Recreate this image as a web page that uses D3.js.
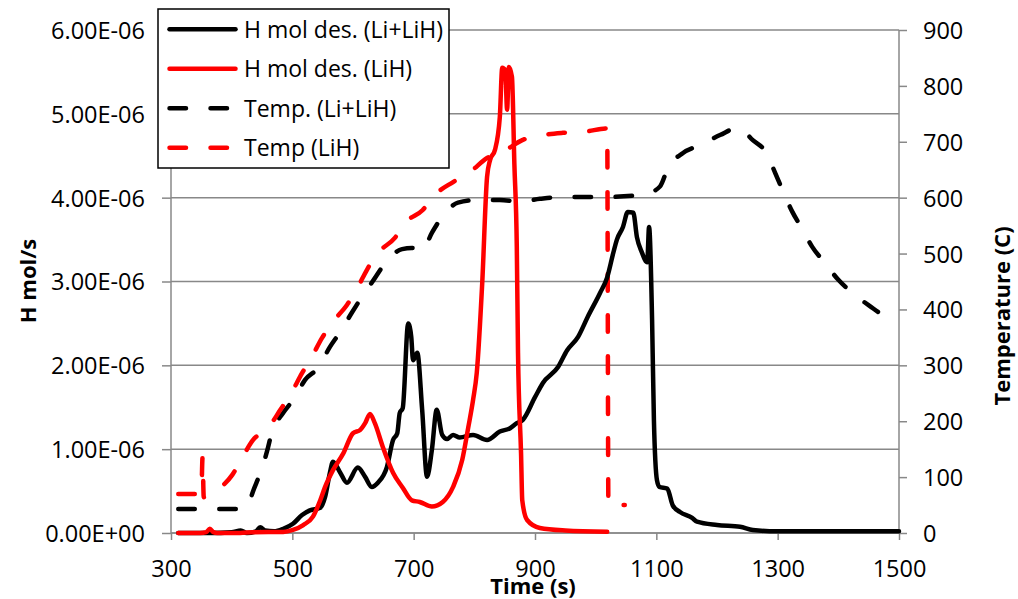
<!DOCTYPE html>
<html>
<head>
<meta charset="utf-8">
<script src="https://cdn.jsdelivr.net/npm/d3@7"></script>
<style>
  html, body { margin: 0; padding: 0; background: #fff; }
  svg { display: block; font-family: "Open Sans", "Noto Sans", sans-serif; }
</style>
</head>
<body>
<svg id="chart" width="1018" height="599"></svg>
<script>
// ---- data (time in s, H rate in 1e-6 mol/s, temperature in C) ----
const timeTicks = [300, 500, 700, 900, 1100, 1300, 1500];
const timeTickLabels = ["300", "500", "700", "900", "1100", "1300", "1500"];
const hTicks = [0, 1, 2, 3, 4, 5, 6];
const hTickLabels = ["0.00E+00", "1.00E-06", "2.00E-06", "3.00E-06", "4.00E-06", "5.00E-06", "6.00E-06"];
const tempTicks = [0, 100, 200, 300, 400, 500, 600, 700, 800, 900];
const tempTickLabels = ["0", "100", "200", "300", "400", "500", "600", "700", "800", "900"];

const seriesNames = ["H mol des. (Li+LiH)", "H mol des. (LiH)", "Temp. (Li+LiH)", "Temp (LiH)"];

const hLiLiH = [[312,0],[364,0],[400,0.01],[415,0.03],[425,0],[440,0.02],[447,0.07],[455,0.03],[470,0.02],[485,0.05],[501,0.11],[516,0.215],[529,0.27],[546,0.30],[554,0.43],[562,0.72],[567,0.85],[579,0.72],[590,0.60],[608,0.78],[620,0.67],[631,0.55],[641,0.60],[656,0.79],[666,1.11],[673,1.19],[677,1.43],[682,1.49],[691,2.50],[696,2.34],[699,2.06],[706,2.15],[714,1.47],[722,0.67],[730,0.99],[738,1.47],[747,1.17],[755,1.12],[765,1.17],[776,1.14],[798,1.17],[821,1.11],[842,1.21],[859,1.25],[870,1.31],[880,1.35],[900,1.62],[913,1.79],[938,1.98],[953,2.18],[971,2.34],[987,2.58],[1007,2.86],[1019,3.05],[1029,3.34],[1035,3.50],[1045,3.65],[1053,3.83],[1062,3.82],[1068,3.53],[1076,3.35],[1085,3.23],[1088,3.65],[1093,2.54],[1096,1.35],[1101,0.63],[1105,0.55],[1118,0.53],[1127,0.33],[1139,0.25],[1159,0.18],[1167,0.135],[1200,0.095],[1238,0.075],[1259,0.036],[1299,0.02],[1500,0.02]];

const hLiH = [[312,0],[348,0],[358,0.01],[364,0.05],[370,0.01],[376,0],[414,0],[435,0.01],[485,0.012],[501,0.036],[518,0.095],[534,0.195],[546,0.39],[554,0.55],[567,0.75],[584,0.95],[600,1.19],[612,1.23],[620,1.31],[628,1.42],[636,1.31],[649,1.03],[666,0.72],[682,0.54],[697,0.39],[710,0.37],[730,0.315],[748,0.37],[765,0.55],[780,0.87],[790,1.26],[798,1.59],[804,1.91],[813,2.98],[821,4.25],[826,4.45],[834,4.57],[842,4.96],[846,5.55],[851,5.52],[854,5.05],[857,5.56],[862,5.44],[866,4.4],[870,3.41],[872,2.15],[877,0.95],[879,0.39],[887,0.155],[908,0.06],[950,0.03],[1019,0.015]];

const tempLiLiH = [[312,43],[420,43],[428,52],[435,74],[447,107],[458,145],[466,179],[485,215],[504,242],[521,274],[542,295],[562,333],[579,360],[598,394],[615,423],[636,456],[653,483],[681,508],[697,510],[714,505],[730,537],[747,566],[773,591],[806,596],[842,596],[875,593],[908,598],[941,601],[1007,601],[1078,605],[1106,620],[1119,653],[1144,680],[1172,694],[1205,712],[1235,725],[1259,703],[1282,679],[1296,644],[1309,611],[1324,575],[1340,545],[1357,512],[1378,483],[1400,453],[1424,429],[1452,406],[1480,386],[1500,378]];

const tempLiH = [[312,70],[346,70],[350,72],[352,135],[354,64],[376,77],[401,104],[417,134],[435,166],[460,188],[480,220],[499,252],[516,286],[532,315],[549,349],[567,378],[590,408],[607,438],[623,471],[641,501],[669,528],[686,555],[715,578],[735,605],[765,628],[793,646],[821,671],[847,682],[879,703],[913,712],[946,716],[982,718],[1019,724],[1021,50],[1048,50]];

// ---- layout ----
const svg = d3.select("#chart");
const plot = { left: 171, right: 899, top: 30, bottom: 533 };
const x = d3.scaleLinear().domain([300, 1500]).range([plot.left, plot.right]);
const yH = d3.scaleLinear().domain([0, 6]).range([plot.bottom, plot.top]);
const yT = d3.scaleLinear().domain([0, 900]).range([plot.bottom, plot.top]);
const gridColor = "#888888";
const tickFont = 23.5;

// gridlines (primary axis)
svg.append("g").selectAll("line").data(hTicks).join("line")
  .attr("x1", plot.left).attr("x2", plot.right)
  .attr("y1", d => yH(d)).attr("y2", d => yH(d))
  .attr("stroke", gridColor).attr("stroke-width", 1.5);

// left axis
const leftAxis = d3.axisLeft(yH).tickValues(hTicks).tickFormat((d, i) => hTickLabels[i]).tickSize(9).tickPadding(17);
const gL = svg.append("g").attr("transform", `translate(${plot.left},0)`).call(leftAxis);
// right axis
const rightAxis = d3.axisRight(yT).tickValues(tempTicks).tickFormat((d, i) => tempTickLabels[i]).tickSize(8).tickPadding(16);
const gR = svg.append("g").attr("transform", `translate(${plot.right},0)`).call(rightAxis);
// bottom axis
const bottomAxis = d3.axisBottom(x).tickValues(timeTicks).tickFormat((d, i) => timeTickLabels[i]).tickSize(7).tickPadding(20);
const gB = svg.append("g").attr("transform", `translate(0,${plot.bottom})`).call(bottomAxis);

[gL, gR, gB].forEach(g => {
  g.select(".domain").attr("stroke", gridColor).attr("stroke-width", 1.5);
  g.selectAll(".tick line").attr("stroke", gridColor).attr("stroke-width", 1.5);
  g.selectAll(".tick text").attr("fill", "#000").attr("font-size", tickFont)
    .attr("font-family", "'Open Sans', sans-serif");
});
gL.select(".domain").attr("d", `M0,${plot.top}V${plot.bottom}`);
gR.select(".domain").attr("d", `M0,${plot.top}V${plot.bottom}`);
gB.select(".domain").attr("d", `M${plot.left},0H${plot.right}`);
gL.selectAll(".tick text").attr("dy", "0.36em");
gR.selectAll(".tick text").attr("dy", "0.36em");
gB.selectAll(".tick text").attr("dy", "0.71em");

// ---- series ----
const lineH = d3.line().x(d => x(d[0])).y(d => yH(d[1])).curve(d3.curveMonotoneX);
const lineT = d3.line().x(d => x(d[0])).y(d => yT(d[1])).curve(d3.curveMonotoneX);
const dash = "16.5 24.5";
const series = svg.append("g").attr("fill", "none").attr("stroke-linecap", "round").attr("stroke-linejoin", "round");

series.append("path").datum(tempLiLiH).attr("d", lineT)
  .attr("stroke", "#000").attr("stroke-width", 4.5).attr("stroke-dasharray", dash);
series.append("path").datum(tempLiH).attr("d", lineT)
  .attr("stroke", "#ff0000").attr("stroke-width", 4.5).attr("stroke-dasharray", dash);
series.append("path").datum(hLiLiH).attr("d", lineH)
  .attr("stroke", "#000").attr("stroke-width", 4.5);
series.append("path").datum(hLiH).attr("d", lineH)
  .attr("stroke", "#ff0000").attr("stroke-width", 4.5);

// ---- axis titles ----
svg.append("text").attr("transform", "translate(36,281) rotate(-90)")
  .attr("text-anchor", "middle").attr("font-weight", "bold").attr("font-size", 22)
  .text("H mol/s");
svg.append("text").attr("transform", "translate(1010,316) rotate(-90)")
  .attr("text-anchor", "middle").attr("font-weight", "bold").attr("font-size", 22)
  .text("Temperature (C)");
svg.append("text").attr("x", 533).attr("y", 594)
  .attr("text-anchor", "middle").attr("font-weight", "bold").attr("font-size", 22)
  .text("Time (s)");

// ---- legend ----
const legend = svg.append("g");
legend.append("rect").attr("x", 158).attr("y", 9).attr("width", 291).attr("height", 159)
  .attr("fill", "#fff").attr("stroke", "#000").attr("stroke-width", 1.5);
const legendStyles = [
  { color: "#000", dash: null },
  { color: "#ff0000", dash: null },
  { color: "#000", dash: dash },
  { color: "#ff0000", dash: dash }
];
const legendY = d3.scalePoint().domain(seriesNames).range([29.3, 147.7]);
seriesNames.forEach((name, i) => {
  const yy = legendY(name);
  const st = legendStyles[i];
  const ln = legend.append("line").attr("x1", 169.5).attr("x2", st.dash ? 233 : 235.5)
    .attr("y1", yy).attr("y2", yy)
    .attr("stroke", st.color).attr("stroke-width", 4.5).attr("stroke-linecap", "round");
  if (st.dash) ln.attr("stroke-dasharray", st.dash);
  legend.append("text").attr("x", 244).attr("y", yy).attr("dy", "0.36em")
    .attr("font-size", 23).text(name);
});
</script>
</body>
</html>
